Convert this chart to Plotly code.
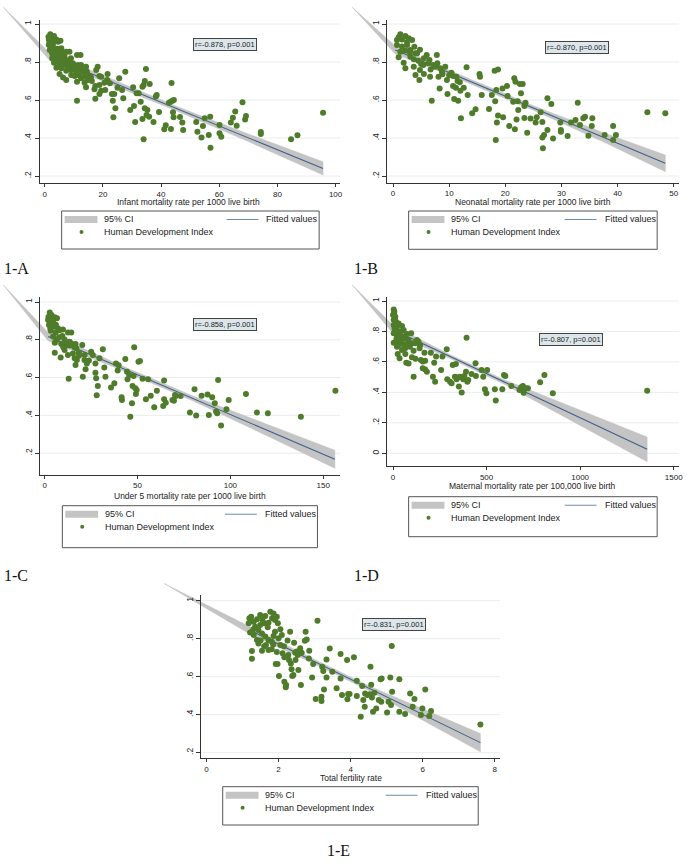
import plotly.graph_objects as go

W, H = 693, 863
SANS = "Liberation Sans, Arial, sans-serif"
SERIF = "Liberation Serif, Times New Roman, serif"

# ---------------- data ----------------
# Panel 1-A : Infant mortality rate vs HDI
a_x = [1.9,3.2,1.4,2.6,4.0,5.4,1.4,2.8,1.7,3.4, 2.5,4.6,6.3,8.5,11.1,12.3,2.8,4.0,5.7,6.8,
       3.2,4.9,6.6,7.4,8.5,9.7,4.0,5.7,7.4,5.1, 7.4,9.1,10.3,11.4,12.0,12.5,13.1,13.7,14.2,14.5,
       14.8,14.2,11.1,10.3,12.5,15.4,17.7,18.2,18.8,19.4, 17.4,17.1,18.8,17.4,18.8,20.5,20.8,21.6,22.4,23.1,
       23.4,23.6,24.3,23.9,25.6,26.6,27.0,27.7,29.4,30.4, 30.7,31.1,31.6,32.3,33.6,34.0,33.6,34.0,33.0,34.4,
       35.3,34.8,34.4,36.1,35.0,35.9,37.4,38.2,38.5,39.3, 41.1,41.6,43.4,42.7,43.3,43.9,44.4,43.6,44.1,44.3,
       46.5,47.3,47.6,52.1,52.5,53.9,54.4,55.0,56.4,56.9, 57.0,60.1,60.1,60.7,64.0,64.7,65.5,66.0,68.0,68.9,
       69.2,74.3,74.3,84.7,86.9,95.7,
       1.3,4.6,5.7,2.6,7.4,8.0,9.1,6.3,13.7,11.1,15.9,19.4,
       2.0,3.5,1.6,3.0,2.2,4.2,3.6,5.0,6.0,8.0,9.5,10.8,11.8,13.0,14.0,7.0,9.0,16.2,21.5,25.0]
a_y = [.946,.937,.919,.912,.919,.912,.89,.89,.863,.863, .846,.849,.849,.854,.837,.837,.828,.814,.819,.832,
       .796,.793,.784,.802,.802,.793,.77,.767,.754,.737, .705,.732,.767,.784,.758,.784,.749,.723,.775,.749,
       .705,.667,.596,.726,.714,.726,.758,.775,.726,.723, .674,.656,.679,.607,.632,.691,.653,.737,.688,.632,
       .596,.509,.556,.632,.714,.653,.609,.749,.547,.667, .568,.484,.635,.635,.67,.679,.5,.393,.591,.556,
       .547,.763,.7,.684,.521,.512,.484,.618,.626,.537, .446,.467,.447,.586,.591,.596,.6,.689,.535,.509,
       .511,.481,.442,.484,.433,.402,.463,.504,.416,.512, .349,.468,.425,.407,.481,.507,.539,.465,.588,.498,
       .516,.432,.421,.393,.414,.533,
       .933,.907,.872,.819,.854,.784,.758,.719,.691,.696,.719,.649,
       .925,.92,.9,.905,.875,.87,.84,.83,.8,.77,.775,.745,.73,.77,.76,.815,.82,.70,.705,.665]
a_band_x = [-14.2, 1.7, 20, 45, 70, 95.7]
a_band_lo = [1.088, .808, .699, .545, .381, .205]
a_band_hi = [1.088, .848, .729, .569, .421, .275]
a_fit_x = [1.7, 95.7]
a_fit_y = [.828, .240]

# Panel 1-B : Neonatal mortality rate vs HDI
b_x = [1.3,0.7,1.6,2.2,2.8,3.4,0.7,1.6,2.5,1.3, 2.2,3.1,4.0,1.0,1.9,2.2,3.1,3.7,4.3,4.5,
       3.7,4.0,4.8,4.7,5.4,5.5,6.3,6.0,6.7,6.6, 6.9,7.2,7.8,7.9,8.1,8.4,8.3,8.7,9.3,9.6,
       9.7,10.4,10.7,10.7,10.9,11.2,11.3,11.6,11.9,12.0, 12.1,12.6,13.1,13.3,14.1,14.7,15.4,15.5,15.8,17.1,
       17.6,18.2,18.1,18.3,18.4,18.7,18.7,18.5,19.6,19.5, 20.3,20.4,20.7,21.4,21.6,21.8,21.7,22.0,22.3,22.2,
       22.6,22.8,23.1,23.4,23.4,23.6,23.9,24.5,25.4,25.6, 26.3,26.6,26.6,26.7,26.9,27.5,27.5,28.2,28.5,29.8,
       29.9,29.9,31.1,31.7,32.5,32.9,33.3,33.9,34.2,34.8, 35.4,35.5,37.7,39.2,39.2,39.7,45.3,48.5,
       1.0,2.5,3.8,4.8,5.5,6.5,7.5,8.8,10.0,3.0,5.0,11.5]
b_y = [.946,.916,.919,.937,.925,.916,.889,.881,.889,.854, .86,.863,.846,.825,.796,.767,.828,.814,.846,.807,
       .775,.732,.758,.705,.784,.737,.793,.837,.761,.723, .596,.784,.837,.793,.723,.767,.661,.749,.775,.705,
       .632,.744,.726,.674,.605,.665,.723,.596,.693,.649, .504,.665,.772,.626,.53,.551,.737,.723,.626,.553,
       .626,.593,.754,.389,.653,.761,.519,.481,.509,.661, .674,.621,.463,.591,.714,.696,.446,.498,.547,.593,
       .684,.635,.684,.505,.568,.586,.428,.502,.481,.509, .535,.484,.402,.346,.416,.609,.442,.579,.398,.481,
       .433,.442,.411,.481,.495,.586,.468,.504,.512,.412, .463,.504,.416,.463,.389,.416,.535,.53,
       .93,.905,.88,.865,.82,.81,.775,.735,.73,.85,.79,.70]
b_band_x = [-7.26, 0.4, 10, 25, 38, 48.5]
b_band_lo = [1.088, .842, .731, .546, .372, .223]
b_band_hi = [1.088, .884, .757, .570, .422, .311]
b_fit_x = [0.4, 48.5]
b_fit_y = [.863, .267]

# Panel 1-C : Under 5 mortality rate vs HDI
c_x = [2.7,3.6,5.4,6.6,1.8,4.5,2.3,4.8,7.1,3.2, 5.9,9.8,12.5,14.3,4.5,7.7,10.7,13.4,5.4,8.9,
       11.6,14.3,16.6,5.4,8.6,10.7,12.5,15.2,16.1,17.0, 18.4,17.3,16.6,12.9,20.2,20.5,21.4,22.0,22.7,23.8,
       25.0,25.9,27.3,27.3,27.7,28.0,28.6,29.5,31.3,32.1, 32.7,35.7,37.5,38.4,39.3,39.8,41.4,41.6,43.4,44.3,
       44.6,45.5,46.1,47.0,47.3,47.9,48.2,48.8,49.1,49.5, 50.5,51.3,52.7,54.5,55.7,57.1,59.0,60.4,63.8,64.3,
       64.3,65.2,68.8,69.6,70.2,70.5,73.2,78.2,80.7,81.6, 84.5,87.7,88.4,90.2,91.6,92.3,93.4,92.9,95.0,97.9,
       99.1,108.4,114.3,120.2,138.0,156.6,
       2.0,3.8,6.0,8.0,3.0,9.5,11.0,6.5,13.5,16.0,18.5,10.0,21.5]
c_y = [.945,.931,.919,.914,.905,.896,.878,.869,.861,.848, .838,.855,.838,.838,.817,.813,.802,.79,.785,.778,
       .772,.781,.778,.732,.707,.746,.72,.728,.702,.755, .732,.693,.667,.594,.772,.605,.693,.644,.675,.69,
       .737,.72,.675,.626,.596,.506,.556,.702,.75,.654, .605,.548,.57,.675,.637,.665,.496,.481,.698,.631,
       .591,.614,.393,.464,.556,.608,.76,.543,.513,.534, .684,.688,.594,.485,.591,.504,.443,.531,.45,.485,
       .584,.467,.481,.478,.508,.503,.503,.416,.538,.4, .504,.511,.402,.496,.464,.42,.587,.411,.346,.432,
       .481,.513,.416,.411,.393,.531,
       .92,.9,.88,.85,.86,.82,.79,.8,.77,.76,.715,.76,.72]
c_band_x = [-22.3, 1.8, 40, 80, 120, 156.3]
c_band_lo = [1.09, .795, .645, .476, .291, .120]
c_band_hi = [1.09, .839, .669, .502, .351, .216]
c_fit_x = [1.8, 156.3]
c_fit_y = [.817, .168]

# Panel 1-D : Maternal mortality rate vs HDI
d_x = [3.5,7,0,12,3.5,16,3.5,21,30,48, 12,35,57,74,3.5,21,42,66,83,97,
       3.5,30,53,78,106,21,48,25,35,66, 71,83,101,110,119,128,136,142,145,149,
       159,168,172,110,159,172,181,202,213,220, 225,230,257,264,287,290,305,313,319,336,
       331,340,345,352,367,358,375,381,393,390, 397,402,420,441,443,473,482,491,499,503,
       544,549,584,593,600,632,676,685,694,698, 708,721,786,809,854,1358,
       5,10,15,8,25,40,60,18,45,90,65,8,30,120]
d_y = [.945,.93,.908,.897,.875,.864,.842,.832,.853,.836, .81,.799,.81,.783,.788,.77,.766,.755,.744,.788,
       .726,.733,.718,.722,.722,.7,.678,.652,.624,.652, .595,.59,.63,.674,.722,.744,.733,.689,.711,.613,
       .602,.661,.608,.503,.558,.551,.536,.661,.503,.595, .47,.635,.547,.635,.683,.486,.47,.46,.58,.586,
       .503,.486,.497,.438,.4,.503,.486,.508,.759,.536, .47,.481,.521,.591,.508,.547,.503,.42,.394,.547,
       .42,.346,.42,.514,.508,.442,.416,.433,.442,.398, .427,.427,.466,.514,.394,.411,
       .92,.88,.85,.82,.8,.78,.76,.75,.74,.7,.69,.9,.71,.62]
d_band_x = [-218, 3.5, 300, 600, 1000, 1358]
d_band_lo = [1.105, .783, .626, .450, .183, -.055]
d_band_hi = [1.105, .837, .650, .480, .283, .107]
d_fit_x = [3.5, 1358]
d_fit_y = [.81, .026]

# Panel 1-E : Total fertility rate vs HDI
e_x = [1.19,1.24,1.17,1.31,1.40,1.49,1.63,1.77,1.86,1.95, 1.82,1.90,1.98,1.35,1.49,1.61,1.72,1.44,1.21,1.31,
       1.40,1.44,1.54,1.63,1.72,1.65,1.81,1.86,1.90,2.0, 2.09,2.05,1.81,1.72,1.54,1.26,1.26,1.92,1.97,2.01,
       2.16,2.20,2.21,2.11,2.16,2.27,2.32,2.29,2.34,2.36, 2.38,2.41,2.43,2.46,2.47,2.50,2.53,2.55,2.62,2.64,
       2.75,2.73,2.78,2.85,2.84,2.93,2.96,3.03,3.08,3.19, 3.19,3.21,3.24,3.26,3.33,3.33,3.42,3.49,3.61,3.72,
       3.72,3.76,3.90,3.91,3.93,3.97,4.09,4.17,4.17,4.28, 4.32,4.35,4.39,4.40,4.46,4.53,4.55,4.57,4.59,4.62,
       4.66,4.71,4.78,4.83,4.86,4.85,5.01,5.05,5.10,5.12, 5.14,5.15,5.35,5.35,5.51,5.65,5.72,5.77,5.95,5.99,
       6.07,6.18,6.23,7.60,
       1.55,1.7,1.5,1.3,1.85,2.15,2.25,2.6,1.6,1.95,2.05]
e_y = [.907,.916,.881,.889,.902,.925,.919,.942,.933,.916, .907,.898,.881,.863,.872,.881,.884,.846,.832,.819,
       .793,.775,.828,.811,.793,.767,.784,.814,.837,.802, .819,.767,.744,.74,.737,.735,.695,.667,.667,.604,
       .574,.544,.556,.723,.702,.714,.837,.688,.67,.639, .604,.609,.779,.726,.688,.732,.714,.635,.556,.726,
       .837,.789,.796,.737,.696,.596,.667,.482,.895,.495, .472,.653,.63,.533,.691,.596,.749,.626,.539,.719,
       .591,.504,.688,.481,.509,.509,.702,.579,.498,.389, .551,.477,.442,.512,.504,.507,.653,.558,.491,.416,
       .516,.433,.477,.586,.591,.468,.411,.468,.596,.451, .761,.521,.586,.416,.404,.512,.442,.482,.398,.433,
       .533,.393,.419,.349,
       .9,.86,.79,.85,.77,.76,.79,.75,.76,.73,.85]
e_band_x = [-1.18, 1.19, 3, 4.5, 6, 7.6]
e_band_lo = [1.091, .826, .667, .528, .371, .205]
e_band_hi = [1.091, .866, .691, .552, .431, .301]
e_fit_x = [1.19, 7.6]
e_fit_y = [.846, .253]

y_ticks_main = [.2, .4, .6, .8, 1]
y_ticklabels_main = [".2", ".4", ".6", ".8", "1"]
y_ticks_d = [0, .2, .4, .6, .8, 1]
y_ticklabels_d = ["0", ".2", ".4", ".6", ".8", "1"]

x_titles = ["Infant mortality rate per 1000 live birth",
            "Neonatal mortality rate per 1000 live birth",
            "Under 5 mortality rate per 1000 live birth",
            "Maternal mortality rate per 100,000 live birth",
            "Total fertility rate"]
r_labels = ["r=-0.878, p=0.001", "r=-0.870, p=0.001", "r=-0.858, p=0.001",
            "r=-0.807, p=0.001", "r=-0.831, p=0.001"]
r_pos = [(61.9, .892), (32.7, .878), (96.9, .882), (949, .747), (5.21, .877)]
panel_labels = ["1-A", "1-B", "1-C", "1-D", "1-E"]
legend_items = ["95% CI", "Fitted values", "Human Development Index"]

# ---------------- layout geometry (pixels) ----------------
panels = [
    dict(x=a_x, y=a_y, bx=a_band_x, blo=a_band_lo, bhi=a_band_hi, fx=a_fit_x, fy=a_fit_y,
         xt=[0, 20, 40, 60, 80, 100], yt=y_ticks_main, ytl=y_ticklabels_main,
         box=(40, 20, 342, 183), ext=(0, 0), xcal=(45, 2.925), ycal=(24, 190),
         title_xy=(190, 202), leg=(62, 211, 321, 249), lab=(2, 269, "left")),
    dict(x=b_x, y=b_y, bx=b_band_x, blo=b_band_lo, bhi=b_band_hi, fx=b_fit_x, fy=b_fit_y,
         xt=[0, 10, 20, 30, 40, 50], yt=y_ticks_main, ytl=y_ticklabels_main,
         box=(389.3, 20, 683, 182.7), ext=(346, 0), xcal=(395.3, 5.647), ycal=(24, 190),
         title_xy=(536, 202), leg=(411, 211, 661, 249.3), lab=(354, 269, "left")),
    dict(x=c_x, y=c_y, bx=c_band_x, blo=c_band_lo, bhi=c_band_hi, fx=c_fit_x, fy=c_fit_y,
         xt=[0, 50, 100, 150], yt=y_ticks_main, ytl=y_ticklabels_main,
         box=(40.7, 296.7, 342, 474.5), ext=(0, 280), xcal=(45, 1.867), ycal=(302, 189),
         title_xy=(190.7, 495.5), leg=(62.7, 505.7, 319.3, 547.7), lab=(2, 575, "left")),
    dict(x=d_x, y=d_y, bx=d_band_x, blo=d_band_lo, bhi=d_band_hi, fx=d_fit_x, fy=d_fit_y,
         xt=[0, 500, 1000, 1500], yt=y_ticks_d, ytl=y_ticklabels_d,
         box=(389.3, 297, 683, 466), ext=(346, 280), xcal=(395.3, 0.18823), ycal=(301, 152.3),
         title_xy=(536, 486.5), leg=(411, 496.7, 661, 536.7), lab=(354, 575, "left")),
    dict(x=e_x, y=e_y, bx=e_band_x, blo=e_band_lo, bhi=e_band_hi, fx=e_fit_x, fy=e_fit_y,
         xt=[0, 2, 4, 6, 8], yt=y_ticks_main, ytl=y_ticklabels_main,
         box=(202.3, 595, 503, 758.3), ext=(150, 570), xcal=(207.7, 36.25), ycal=(600.7, 190),
         title_xy=(352.7, 777.5), leg=(224, 786.7, 481, 825), lab=(340, 850, "center")),
]

MARKER = "#4f7c2a"
BAND = "#c4c4c4"
LINE = "#3f618a"
GRID = "#e8edef"
AXIS = "#333333"


def pxx(p):
    return p / W


def pxy(p):
    return 1 - p / H


def ax_key(kind, n):
    return f"{kind}axis" if n == 1 else f"{kind}axis{n}"


def ax_ref(kind, n):
    return kind if n == 1 else f"{kind}{n}"


fig = go.Figure()
layout = {}
shapes = []
annotations = []

for i, p in enumerate(panels):
    ne, nm = 2 * i + 1, 2 * i + 2
    L, T, R, B = p["box"]
    EL, ET = p["ext"]
    x0, ppx = p["xcal"]
    y1, ppy = p["ycal"]
    xr = [(L - x0) / ppx, (R - x0) / ppx]
    yr = [1 - (B - y1) / ppy, 1 + (y1 - T) / ppy]
    xr_e = [(EL - x0) / ppx, xr[1]]
    yr_e = [yr[0], 1 + (y1 - ET) / ppy]

    # extended (invisible) axes carrying the CI band
    layout[ax_key("x", ne)] = dict(domain=[pxx(EL), pxx(R)], range=xr_e, visible=False,
                                   anchor=ax_ref("y", ne), fixedrange=True)
    layout[ax_key("y", ne)] = dict(domain=[pxy(B), pxy(ET)], range=yr_e, visible=False,
                                   anchor=ax_ref("x", ne), fixedrange=True)
    # main visible axes
    layout[ax_key("x", nm)] = dict(domain=[pxx(L), pxx(R)], range=xr, anchor=ax_ref("y", nm),
                                   showgrid=False, zeroline=False, showline=True, linecolor=AXIS,
                                   linewidth=1.2, ticks="outside", ticklen=3, tickcolor=AXIS,
                                   tickwidth=1, tickvals=p["xt"],
                                   ticktext=[f"{v:g}" for v in p["xt"]],
                                   tickfont=dict(family=SANS, size=8, color="#222"),
                                   fixedrange=True)
    layout[ax_key("y", nm)] = dict(domain=[pxy(B), pxy(T)], range=yr, anchor=ax_ref("x", nm),
                                   showgrid=False, zeroline=False, showline=True, linecolor=AXIS,
                                   linewidth=1.2, ticks="outside", ticklen=4, tickcolor=AXIS,
                                   tickwidth=1, tickvals=p["yt"], ticktext=p["ytl"], tickangle=-90,
                                   tickfont=dict(family=SANS, size=8.5, color="#222"),
                                   fixedrange=True)

    # gridlines under the band
    for v in p["yt"]:
        shapes.append(dict(type="line", xref=ax_ref("x", ne), yref=ax_ref("y", ne),
                           x0=xr[0], x1=xr[1], y0=v, y1=v, layer="below",
                           line=dict(color=GRID, width=1)))

    # CI band polygon
    poly_x = list(p["bx"]) + list(reversed(p["bx"]))
    poly_y = list(p["blo"]) + list(reversed(p["bhi"]))
    fig.add_trace(go.Scatter(x=poly_x, y=poly_y, mode="lines", fill="toself",
                             fillcolor=BAND, line=dict(color=BAND, width=0.5),
                             xaxis=ax_ref("x", ne), yaxis=ax_ref("y", ne),
                             hoverinfo="skip", showlegend=False))
    fig.add_trace(go.Scatter(x=p["fx"], y=p["fy"], mode="lines",
                             line=dict(color=LINE, width=1.1),
                             xaxis=ax_ref("x", ne), yaxis=ax_ref("y", ne),
                             hoverinfo="skip", showlegend=False))
    # points
    fig.add_trace(go.Scatter(x=p["x"], y=p["y"], mode="markers",
                             marker=dict(color=MARKER, size=6, line=dict(width=0)),
                             xaxis=ax_ref("x", nm), yaxis=ax_ref("y", nm),
                             cliponaxis=False, showlegend=False))

    # r annotation
    rx, ry = r_pos[i]
    annotations.append(dict(x=rx, y=ry, xref=ax_ref("x", nm), yref=ax_ref("y", nm),
                            text=r_labels[i], showarrow=False,
                            font=dict(family=SANS, size=7.5, color="#222"),
                            bgcolor="#dde6ea", bordercolor="#444", borderwidth=1, borderpad=1))
    # x title
    tx, ty = p["title_xy"]
    annotations.append(dict(x=pxx(tx), y=pxy(ty), xref="paper", yref="paper", text=x_titles[i],
                            showarrow=False, font=dict(family=SANS, size=8.5, color="#222"),
                            xanchor="center", yanchor="middle"))
    # legend box
    lL, lT, lR, lB = p["leg"]
    shapes.append(dict(type="rect", xref="paper", yref="paper", x0=pxx(lL), x1=pxx(lR),
                       y0=pxy(lB), y1=pxy(lT), line=dict(color="#555", width=1),
                       fillcolor="rgba(0,0,0,0)"))
    r1, r2 = lT + 8.5, lT + 21
    shapes.append(dict(type="rect", xref="paper", yref="paper", x0=pxx(lL + 3), x1=pxx(lL + 36),
                       y0=pxy(r1 + 3.5), y1=pxy(r1 - 3.5), line=dict(width=0), fillcolor=BAND))
    shapes.append(dict(type="line", xref="paper", yref="paper", x0=pxx(lR - 93), x1=pxx(lR - 61),
                       y0=pxy(r1), y1=pxy(r1), line=dict(color="#6f8cab", width=1.1)))
    shapes.append(dict(type="circle", xref="paper", yref="paper", x0=pxx(lL + 18), x1=pxx(lL + 22),
                       y0=pxy(r2 + 2), y1=pxy(r2 - 2), line=dict(width=0), fillcolor=MARKER))
    for txt, xx, yy in [(legend_items[0], lL + 41, r1), (legend_items[1], lR - 55, r1),
                        (legend_items[2], lL + 41, r2)]:
        annotations.append(dict(x=pxx(xx), y=pxy(yy), xref="paper", yref="paper", text=txt,
                                showarrow=False, xanchor="left", yanchor="middle",
                                font=dict(family=SANS, size=9, color="#222")))
    # panel label
    lx, ly, anc = p["lab"]
    annotations.append(dict(x=pxx(lx), y=pxy(ly), xref="paper", yref="paper",
                            text=panel_labels[i], showarrow=False, xanchor=anc,
                            yanchor="middle", font=dict(family=SERIF, size=16, color="#111")))

fig.update_layout(width=W, height=H, margin=dict(l=0, r=0, t=0, b=0),
                  paper_bgcolor="white", plot_bgcolor="rgba(0,0,0,0)",
                  showlegend=False, shapes=shapes, annotations=annotations, **layout)

fig.write_html("out.html")
